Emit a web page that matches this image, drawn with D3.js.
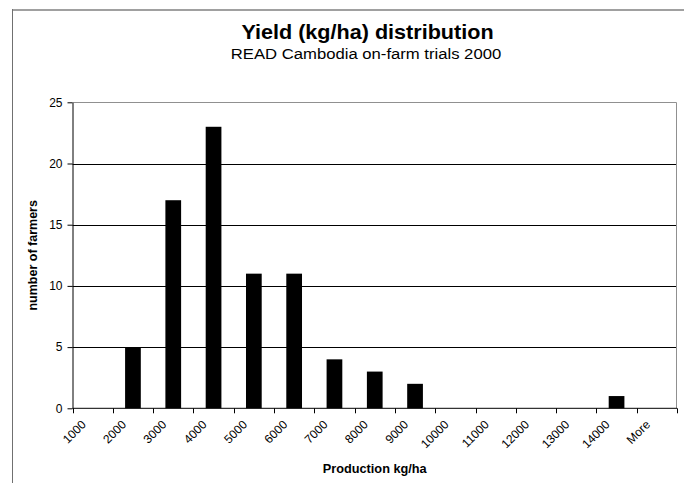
<!DOCTYPE html>
<html>
<head>
<meta charset="utf-8">
<script src="https://cdn.jsdelivr.net/npm/d3@7"></script>
<style>
  html, body { margin: 0; padding: 0; background: #fff; }
  svg { display: block; font-family: "Liberation Sans", Arial, sans-serif; }
</style>
</head>
<body>
<svg id="chart" width="684" height="483"></svg>
<script>
// Histogram bins (upper limits, kg/ha) and number of farmers in each bin
const categories = ["1000", "2000", "3000", "4000", "5000", "6000", "7000", "8000",
                    "9000", "10000", "11000", "12000", "13000", "14000", "More"];
const farmers = [0, 5, 17, 23, 11, 11, 4, 3, 2, 0, 0, 0, 0, 1, 0];
const yTicks = [0, 5, 10, 15, 20, 25];

const titleText = "Yield (kg/ha) distribution";
const subtitleText = "READ Cambodia on-farm trials 2000";
const xTitle = "Production kg/ha";
const yTitle = "number of farmers";

const svg = d3.select("#chart");
const W = 684, H = 483;
const plot = { left: 72.5, right: 677, top: 102.3, bottom: 408.3 };

svg.append("rect").attr("width", W).attr("height", H).attr("fill", "#fff");

// Chart area frame (top and left edges)
svg.append("line").attr("x1", 12).attr("x2", W).attr("y1", 10).attr("y2", 10)
  .attr("stroke", "#a0a0a0").attr("stroke-width", 2);
svg.append("line").attr("x1", 12.5).attr("x2", 12.5).attr("y1", 9).attr("y2", H)
  .attr("stroke", "#707070").attr("stroke-width", 1);

const x = d3.scaleBand().domain(categories).range([plot.left, plot.right]).padding(0);
const y = d3.scaleLinear().domain([0, 25]).range([plot.bottom, plot.top]);

// Horizontal gridlines
svg.append("g").selectAll("line").data(yTicks.filter(v => v > 0 && v < 25)).join("line")
  .attr("x1", plot.left).attr("x2", plot.right)
  .attr("y1", d => Math.round(y(d)) + 0.5).attr("y2", d => Math.round(y(d)) + 0.5)
  .attr("stroke", "#000").attr("stroke-width", 1);

// Plot area border (top/right in grey)
svg.append("path")
  .attr("d", `M${plot.left},${Math.round(y(25)) + 0.5}H${plot.right - 0.5}V${plot.bottom}`)
  .attr("fill", "none").attr("stroke", "#909090").attr("stroke-width", 1);

// Bars
const barW = x.bandwidth() * 0.39;
svg.append("g").selectAll("rect").data(categories.map((c, i) => ({ c, v: farmers[i] })).filter(d => d.v > 0))
  .join("rect")
  .attr("x", d => x(d.c) + x.bandwidth() / 2 - barW / 2)
  .attr("width", barW)
  .attr("y", d => y(d.v))
  .attr("height", d => y(0) - y(d.v))
  .attr("fill", "#000");

// Y axis
const yAxis = d3.axisLeft(y).tickValues(yTicks).tickSize(5).tickSizeOuter(0).tickPadding(5);
const gy = svg.append("g").attr("transform", `translate(${plot.left},0)`).call(yAxis);
gy.select(".domain").attr("stroke", "#000");
gy.selectAll(".tick line").attr("stroke", "#000");
gy.selectAll(".tick text").attr("font-size", 12).attr("fill", "#000")
  .attr("font-family", "Liberation Sans, Arial, sans-serif");

// X axis: baseline, ticks on bin boundaries, rotated labels
const gx = svg.append("g");
gx.append("line").attr("x1", plot.left).attr("x2", plot.right)
  .attr("y1", plot.bottom).attr("y2", plot.bottom).attr("stroke", "#000");
const bounds = categories.map(c => x(c)).concat([x(categories[categories.length - 1]) + x.bandwidth()]);
gx.selectAll("line.t").data(bounds).join("line").attr("class", "t")
  .attr("x1", d => Math.round(d) + 0.5).attr("x2", d => Math.round(d) + 0.5)
  .attr("y1", plot.bottom).attr("y2", plot.bottom + 5)
  .attr("stroke", "#000");
gx.selectAll("text").data(categories).join("text")
  .attr("transform", d => `translate(${x(d) + x.bandwidth() / 2 - 6},${plot.bottom + 17}) rotate(-45)`)
  .attr("text-anchor", "end")
  .attr("font-size", 12).attr("fill", "#000")
  .text(d => d);

// Titles (slightly wide lettering, stretched horizontally about their centre)
function centred(cx, baseline, size, weight, sx, txt) {
  svg.append("text")
    .attr("transform", `translate(${cx},${baseline}) scale(${sx},1)`)
    .attr("text-anchor", "middle")
    .attr("font-size", size).attr("font-weight", weight).attr("fill", "#000")
    .text(txt);
}
centred(367.5, 39, 20, "bold", 1.08, titleText);
centred(366, 58.5, 14.5, "normal", 1.15, subtitleText);
centred(374.7, 473.3, 12.5, "bold", 1.02, xTitle);

svg.append("text").attr("transform", `translate(37,${(plot.top + plot.bottom) / 2}) rotate(-90)`)
  .attr("text-anchor", "middle")
  .attr("font-size", 12.5).attr("font-weight", "bold").text(yTitle);
</script>
</body>
</html>
